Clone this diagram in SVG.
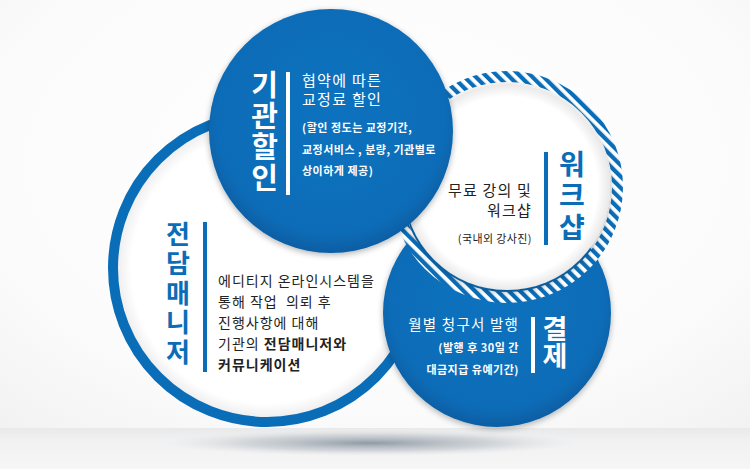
<svg xmlns="http://www.w3.org/2000/svg" width="750" height="469" viewBox="0 0 750 469">
<defs>
<style>
.t{font-family:"Noto Sans CJK KR","Noto Sans",sans-serif;}
.ttl{font-weight:bold;writing-mode:vertical-rl;text-orientation:upright;}
.w{fill:#ffffff;}
.b{fill:#0a6db8;}
.dk{fill:#222222;}
.body{font-size:14px;letter-spacing:1px;}
.sm{font-size:11px;letter-spacing:0.4px;}
.smb{font-size:11px;font-weight:bold;letter-spacing:0.5px;}
</style>
<radialGradient id="bg" cx="0.5" cy="0.35" r="0.75">
<stop offset="0" stop-color="#ffffff"/>
<stop offset="0.7" stop-color="#fbfbfb"/>
<stop offset="1" stop-color="#f2f2f2"/>
</radialGradient>
<linearGradient id="floor" x1="0" y1="0" x2="0" y2="1">
<stop offset="0" stop-color="#e8e9ea"/>
<stop offset="0.3" stop-color="#f1f1f2"/>
<stop offset="1" stop-color="#f6f6f6"/>
</linearGradient>
<radialGradient id="blue" cx="0.5" cy="0.45" r="0.55">
<stop offset="0" stop-color="#0b72bf"/>
<stop offset="0.85" stop-color="#0a6cb7"/>
<stop offset="1" stop-color="#095ea3"/>
</radialGradient>
<radialGradient id="whiteDisc" cx="0.5" cy="0.5" r="0.5">
<stop offset="0" stop-color="#ffffff"/>
<stop offset="0.88" stop-color="#ffffff"/>
<stop offset="1" stop-color="#e9e9e9"/>
</radialGradient>
<radialGradient id="shadowG" cx="0.5" cy="0.5" r="0.5">
<stop offset="0" stop-color="#7d8a96" stop-opacity="0.85"/>
<stop offset="0.6" stop-color="#a9b2ba" stop-opacity="0.45"/>
<stop offset="1" stop-color="#d0d4d8" stop-opacity="0"/>
</radialGradient>
<pattern id="stripes" width="8" height="8" patternUnits="userSpaceOnUse" patternTransform="rotate(-45)">
<rect width="8" height="8" fill="#ffffff"/>
<rect width="4.2" height="8" fill="#0a6db8"/>
</pattern>
<filter id="drop" x="-20%" y="-20%" width="140%" height="140%">
<feGaussianBlur in="SourceAlpha" stdDeviation="3"/>
<feOffset dx="0" dy="2" result="o"/>
<feComponentTransfer><feFuncA type="linear" slope="0.3"/></feComponentTransfer>
<feMerge><feMergeNode/><feMergeNode in="SourceGraphic"/></feMerge>
</filter>
</defs>

<rect x="0" y="0" width="750" height="469" fill="url(#bg)"/>
<rect x="0" y="428" width="750" height="41" fill="url(#floor)"/>
<ellipse cx="370" cy="443" rx="205" ry="13" fill="url(#shadowG)"/>

<g id="node-manager">
<circle cx="267" cy="268" r="154" fill="url(#whiteDisc)" stroke="#0a6db8" stroke-width="10"/>
<text class="t ttl b" x="178" y="221" font-size="26" letter-spacing="3.5">전담매니저</text>
<rect x="203" y="222" width="4" height="150" class="b"/>
<text class="t body dk" x="218" y="286">에디티지 온라인시스템을</text>
<text class="t body dk" x="218" y="307" xml:space="preserve">통해 작업  의뢰 후</text>
<text class="t body dk" x="218" y="328">진행사항에 대해</text>
<text class="t body dk" x="218" y="349">기관의 <tspan font-weight="bold">전담매니저와</tspan></text>
<text class="t body dk" x="218" y="370" font-weight="bold">커뮤니케이션</text>
</g>

<g id="node-payment">
<circle cx="497" cy="313" r="114" fill="url(#blue)" filter="url(#drop)"/>
<text class="t ttl w" x="555" y="315" font-size="27" letter-spacing="0.5">결제</text>
<rect x="531" y="317" width="4" height="56" class="w"/>
<text class="t w" x="519" y="330" text-anchor="end" font-size="14.5" letter-spacing="1.2">월별 청구서 발행</text>
<text class="t smb w" x="519" y="352" text-anchor="end">(발행 후 30일 간</text>
<text class="t smb w" x="519" y="374" text-anchor="end">대금지급 유예기간)</text>
</g>

<g id="node-workshop">
<circle cx="507" cy="187" r="110.5" fill="none" stroke="url(#stripes)" stroke-width="11"/>
<circle cx="507" cy="187" r="103" fill="url(#whiteDisc)" filter="url(#drop)"/>
<text class="t ttl b" x="572" y="150" font-size="28" letter-spacing="3.5">워크샵</text>
<rect x="544" y="152" width="4" height="93" class="b"/>
<text class="t dk" x="532" y="196" text-anchor="end" font-size="15" letter-spacing="1.2">무료 강의 및</text>
<text class="t dk" x="532" y="216" text-anchor="end" font-size="15" letter-spacing="1.2">워크샵</text>
<text class="t sm dk" x="532" y="243" text-anchor="end">(국내외 강사진)</text>
</g>

<g id="node-discount">
<circle cx="331" cy="131" r="122" fill="url(#blue)" filter="url(#drop)"/>
<text class="t ttl w" x="264.5" y="70" font-size="29" letter-spacing="2">기관할인</text>
<rect x="286" y="72" width="4" height="123" class="w"/>
<text class="t w" x="302" y="86" font-size="15" letter-spacing="1.3">협약에 따른</text>
<text class="t w" x="302" y="105" font-size="15" letter-spacing="1.3">교정료 할인</text>
<text class="t smb w" x="302" y="132">(할인 정도는 교정기간,</text>
<text class="t smb w" x="302" y="154">교정서비스 , 분량, 기관별로</text>
<text class="t smb w" x="302" y="175">상이하게 제공)</text>
</g>

<g id="connectors"></g>
</svg>
